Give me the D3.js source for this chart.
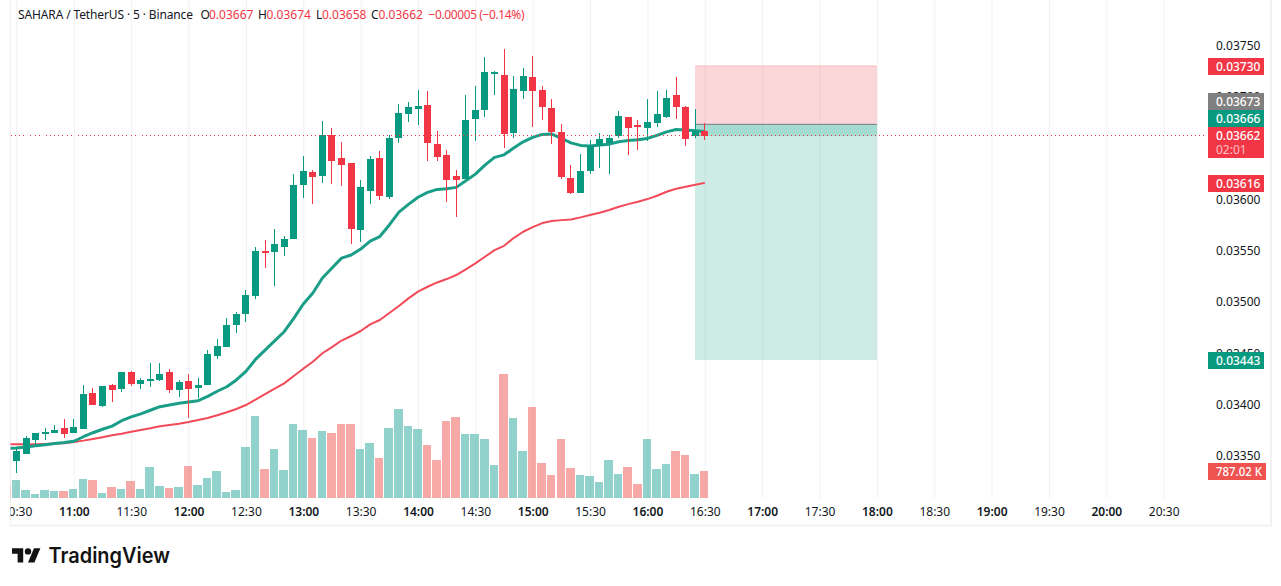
<!DOCTYPE html>
<html><head><meta charset="utf-8">
<style>html,body{margin:0;padding:0;background:#fff;overflow:hidden}svg{display:block}
text{font-family:"Noto Sans",sans-serif}</style>
<script src="https://cdn.jsdelivr.net/npm/d3@7"></script></head><body>
<svg id="c" width="1281" height="586"></svg>
<script>
// Prices in units of 0.00001 USDT; first entry is the 10:25 bar, mostly off the left edge.
const startTime = "2025-01-01T10:25:00";
const opens = [3352,3345,3352,3366,3372,3372,3377,3372,3376,3411,
 3399,3419,3415,3432,3420,3423,3424,3432,3414,3423,
 3416,3419,3447,3456,3478,3488,3506,3550,3549,3554,
 3561,3614,3627,3623,3663,3640,3635,3570,3608,3640,
 3602,3660,3683,3688,3692,3654,3643,3623,3620,3678,
 3687,3722,3721,3665,3705,3719,3706,3689,3666,3621,
 3606,3628,3652,3655,3662,3680,3672,3669,3674,3680,
 3702,3690,3662,3667];
const highs = [3352,3359,3369,3372,3377,3380,3386,3386,3419,3416,
 3418,3420,3432,3433,3426,3441,3441,3435,3424,3430,
 3426,3453,3464,3484,3490,3512,3554,3560,3571,3564,
 3625,3642,3629,3676,3669,3656,3635,3619,3642,3647,
 3663,3693,3695,3706,3705,3667,3648,3629,3702,3710,
 3739,3725,3746,3720,3728,3740,3710,3698,3673,3633,
 3644,3658,3665,3663,3686,3680,3677,3698,3705,3706,
 3719,3691,3688,3674];
const lows = [3345,3333,3352,3360,3366,3372,3367,3372,3376,3400,
 3398,3403,3412,3418,3415,3417,3423,3411,3407,3387,
 3406,3419,3444,3456,3470,3480,3503,3533,3516,3545,
 3561,3601,3595,3616,3615,3613,3556,3558,3595,3599,
 3600,3655,3675,3672,3637,3637,3597,3583,3620,3657,
 3680,3702,3650,3660,3698,3670,3677,3654,3620,3605,
 3606,3625,3630,3625,3660,3643,3648,3657,3670,3679,
 3678,3652,3660,3658];
const closes = [3345,3355,3367,3372,3373,3375,3371,3378,3410,3400,
 3418,3414,3432,3420,3424,3425,3430,3414,3422,3415,
 3419,3449,3457,3478,3488,3507,3550,3548,3556,3561,
 3614,3628,3622,3663,3637,3633,3571,3612,3639,3603,
 3660,3684,3690,3691,3655,3641,3619,3619,3677,3687,
 3724,3724,3664,3707,3720,3705,3690,3666,3622,3606,
 3628,3652,3659,3660,3681,3669,3670,3675,3683,3699,
 3690,3659,3667,3662];
const volumes = [350,525,233,117,233,204,204,262,554,525,
 146,321,262,496,262,904,350,292,321,933,
 379,583,787,175,233,1487,2390,845,1428,816,
 2157,1982,1749,1953,1895,2157,2157,1428,1603,1166,
 2040,2594,2099,2011,1545,1108,2245,2361,1866,1866,
 1720,962,3615,2332,1370,2653,1020,670,1720,875,
 670,641,466,1108,700,904,408,1720,845,991,
 1370,1253,700,787.02];
const emaFast = [3357.3,3357.7,3358.7,3360,3361,3362,3363,3364.3,3368.7,3372.6,
 3376,3379,3384.3,3388,3391,3394.5,3398,3399.6,3401.3,3402.5,
 3403.8,3408,3413,3417.4,3424,3432.4,3444,3453,3462,3471,
 3484,3498,3508.7,3523.3,3533,3542.7,3545.7,3551.5,3559.3,3563.7,
 3575,3587.5,3595,3602,3606.7,3609.6,3610.2,3611.6,3618,3624.5,
 3633.3,3640.8,3643.3,3649.9,3656,3660.3,3663.2,3663.5,3659.3,3655,
 3652.5,3652,3652.8,3653.7,3656,3657.3,3658,3659.3,3662.2,3665.7,
 3668,3667.4,3666.7,3666];
const emaSlow = [3361.3,3361.3,3361.3,3361.3,3361.6,3362,3362.3,3363.6,3364.9,3366.5,
 3368.2,3370.1,3371.7,3373.6,3375.3,3376.9,3378.9,3380.1,3381.4,3383,
 3385,3387,3389.6,3392.5,3395.7,3399.6,3404.8,3410.3,3415.5,3420.7,
 3427.8,3435,3441.8,3450,3456,3462.4,3466.8,3471.7,3478.2,3482.4,
 3489.2,3496,3503.5,3510,3514.8,3519,3522.3,3526.2,3531.7,3537.6,
 3544,3550.5,3554.7,3562.2,3568.4,3572.9,3576.8,3578.8,3579.7,3580.4,
 3582.4,3584.6,3586.9,3589.5,3592.7,3595.3,3597.6,3600.2,3603.4,3607.3,
 3610.2,3612.2,3614.1,3616];
const priceTicks = [3750,3700,3650,3600,3550,3500,3450,3400,3350];
const entryPrice = 3673, targetPrice = 3443, stopPrice = 3730, lastPrice = 3662;
const positionSpan = ["2025-01-01T16:25:00","2025-01-01T18:00:00"];
const tagLabels = ["0.03730","0.03673","0.03666","0.03616","0.03443"];
const tagColors = ["#f23645","#808080","#089981","#f23645","#089981"];
const legendTitle = "SAHARA / TetherUS · 5 · Binance";
const legendLetters = ["O","H","L","C"];
const legendValues = ["0.03667","0.03674","0.03658","0.03662"];
const legendChange = "−0.00005 (−0.14%)";

const GREEN="#089981",RED="#f23645",VG="#26a69a",VR="#ef5350",GRID="#f0f1f2",TXT="#131722";
const tagTops=[58,93,110,175,352];
const letterX=[200.5,258,316,371], valueX=[209,266.5,322,378.5];
const svg=d3.select("#c");
const parse=s=>new Date(s);
const t0=parse(startTime);
const times=opens.map((_,i)=>d3.timeMinute.offset(t0,5*i));
const x=d3.scaleTime().domain([parse("2025-01-01T10:30:00"),parse("2025-01-01T20:30:00")]).range([16.5,1163.7]);
const y=d3.scaleLinear().domain([3750,3400]).range([45.3,404.6]);
const v=d3.scaleLinear().domain([0,3615]).range([498,374]);
const fmt=d3.format(".5f");

// frame
svg.append("rect").attr("x",10).attr("width",1).attr("height",526).attr("fill","#f0f0f0");
svg.append("rect").attr("x",1270).attr("width",2).attr("height",526).attr("fill","#f2f2f2");
svg.append("rect").attr("x",10).attr("y",524.5).attr("width",1262).attr("height",2).attr("fill","#f2f2f2");

const defs=svg.append("defs");
defs.append("clipPath").attr("id","plot").append("rect").attr("x",10.5).attr("y",0).attr("width",1197).attr("height",498.5);
defs.append("clipPath").attr("id","tc2").append("rect").attr("x",10.5).attr("y",0).attr("width",1197).attr("height",26);

const timeTicks=d3.timeMinute.every(30).range(parse("2025-01-01T10:30:00"),parse("2025-01-01T20:31:00"));
const gridY=svg.append("g").attr("transform","translate(1207.5,0)").attr("clip-path","url(#plot)")
 .call(d3.axisLeft(y).tickValues(priceTicks).tickSize(1197).tickFormat(""));
const gridX=svg.append("g").attr("transform","translate(0,498)")
 .call(d3.axisTop(x).tickValues(timeTicks).tickSize(498).tickFormat(""));
[gridY,gridX].forEach(g=>{g.select(".domain").remove();g.selectAll("line").attr("stroke",GRID).attr("stroke-width",1);});

const plot=svg.append("g").attr("clip-path","url(#plot)");

// volume
plot.append("g").selectAll("rect").data(volumes).join("rect")
 .attr("x",(d,i)=>Math.round(x(times[i])-4.9))
 .attr("width",(d,i)=>Math.round(x(times[i])+3.6)-Math.round(x(times[i])-4.9))
 .attr("y",d=>v(d)).attr("height",d=>498-v(d))
 .attr("fill",(d,i)=>closes[i]>=opens[i]?VG:VR).attr("fill-opacity",.5)
 .attr("shape-rendering","crispEdges");

// position tool
const px0=x(parse(positionSpan[0])),px1=x(parse(positionSpan[1]));
const zone=(a,b,c,o)=>plot.append("rect").attr("x",px0).attr("width",px1-px0)
 .attr("y",y(a)).attr("height",y(b)-y(a)).attr("fill",c).attr("fill-opacity",o).attr("shape-rendering","crispEdges");
zone(stopPrice,entryPrice,RED,.2);
zone(entryPrice,targetPrice,GREEN,.2);
zone(entryPrice,lastPrice,GREEN,.2);
plot.append("line").attr("x1",px0).attr("x2",px1).attr("y1",y(stopPrice)).attr("y2",y(stopPrice)).attr("stroke",RED).attr("stroke-opacity",.25);
plot.append("line").attr("x1",px0).attr("x2",px1).attr("y1",y(entryPrice)).attr("y2",y(entryPrice)).attr("stroke","#787b86").attr("stroke-width",1);

// moving averages
const line=d3.line().x((d,i)=>x(times[i])).y(d=>y(d));
plot.append("path").attr("d",line(emaSlow)).attr("fill","none").attr("stroke","#f24a58").attr("stroke-width",2).attr("stroke-linejoin","round");
plot.append("path").attr("d",line(emaFast)).attr("fill","none").attr("stroke","#1a9e88").attr("stroke-width",3).attr("stroke-linejoin","round");

// candles
const col=i=>closes[i]>=opens[i]?GREEN:RED;
const cg=plot.append("g").attr("shape-rendering","crispEdges");
cg.selectAll("line").data(opens).join("line")
 .attr("x1",(d,i)=>Math.floor(x(times[i]))+.5).attr("x2",(d,i)=>Math.floor(x(times[i]))+.5)
 .attr("y1",(d,i)=>y(highs[i])).attr("y2",(d,i)=>y(lows[i])).attr("stroke",(d,i)=>col(i));
cg.selectAll("rect").data(opens).join("rect")
 .attr("x",(d,i)=>Math.floor(x(times[i]))-3).attr("width",7)
 .attr("y",(d,i)=>y(Math.max(opens[i],closes[i])))
 .attr("height",(d,i)=>Math.max(1.5,Math.abs(y(opens[i])-y(closes[i]))))
 .attr("fill",(d,i)=>col(i));

// last price dotted line
svg.append("line").attr("x1",10.5).attr("x2",1207).attr("y1",y(lastPrice)).attr("y2",y(lastPrice))
 .attr("stroke",RED).attr("stroke-dasharray","1 3").attr("stroke-width",1).attr("shape-rendering","crispEdges");

// time axis
const axT=svg.append("g").attr("transform","translate(0,498)").append("g").attr("clip-path","url(#tc2)");
axT.call(d3.axisBottom(x).tickValues(timeTicks).tickSize(0).tickPadding(0).tickFormat(d3.timeFormat("%H:%M")));
axT.select(".domain").remove();
axT.selectAll("text").attr("y",17.5).attr("dy",0).attr("font-size",12).attr("fill",TXT)
 .style("font-family",'"Noto Sans",sans-serif')
 .attr("font-weight",d=>d.getMinutes()===0?600:400);

// price axis
const axP=svg.append("g").attr("transform","translate(1216,0)")
 .call(d3.axisRight(y).tickValues(priceTicks).tickSize(0).tickPadding(0).tickFormat(d=>fmt(d/1e5)));
axP.select(".domain").remove();
axP.selectAll("text").attr("font-size",12).attr("fill",TXT).style("font-family",'"Noto Sans",sans-serif');

// tags
const tagG=svg.append("g");
tagLabels.forEach((label,i)=>{
 const top=tagTops[i];
 tagG.append("rect").attr("x",1208).attr("y",top).attr("width",55.5).attr("height",17).attr("fill",tagColors[i]).attr("shape-rendering","crispEdges");
 tagG.append("text").attr("x",1216).attr("y",top+12.8).attr("font-size",12).attr("font-weight",500).attr("fill","#fff").text(label);
});
// current price tag with countdown
const ly=127;
tagG.append("rect").attr("x",1208).attr("y",ly).attr("width",55.5).attr("height",30.7).attr("fill",RED).attr("shape-rendering","crispEdges");
tagG.append("text").attr("x",1216).attr("y",ly+13).attr("font-size",12).attr("font-weight",500).attr("fill","#fff").text(fmt(lastPrice/1e5));
tagG.append("text").attr("x",1216).attr("y",ly+27).attr("font-size",12).attr("fill","#fff").attr("fill-opacity",.7).text("02:01");
// volume tag
tagG.append("rect").attr("x",1208).attr("y",463).attr("width",57.7).attr("height",17).attr("fill",VR).attr("shape-rendering","crispEdges");
tagG.append("text").attr("x",1216).attr("y",476).attr("font-size",12).attr("font-weight",500).attr("textLength",46).attr("lengthAdjust","spacingAndGlyphs").attr("fill","#fff").text("787.02 K");

// legend
const lg=svg.append("g").attr("font-size",12);
lg.append("text").attr("x",18).attr("y",19).attr("fill",TXT).attr("textLength",175).text(legendTitle);
legendLetters.forEach((a,i)=>{
 lg.append("text").attr("x",letterX[i]).attr("y",19).attr("fill",TXT).text(a);
 lg.append("text").attr("x",valueX[i]).attr("y",19).attr("fill",RED).text(legendValues[i]);
});
lg.append("text").attr("x",428.5).attr("y",19).attr("fill",RED).attr("textLength",96).text(legendChange);

// logo
const logo=svg.append("g").attr("transform","translate(12,545) scale(.8)").attr("fill","#131313");
logo.append("path").attr("d","M14 22H7V11H0V4h14v18zM28 22h-8l7.5-18h8L28 22z");
logo.append("circle").attr("cx",20).attr("cy",8).attr("r",4);
svg.append("text").attr("x",48.5).attr("y",563).attr("font-size",21).attr("font-weight",600)
 .style("font-family","Inter,sans-serif").attr("fill","#131313").attr("textLength",121.5).attr("lengthAdjust","spacingAndGlyphs").text("TradingView");
</script></body></html>
